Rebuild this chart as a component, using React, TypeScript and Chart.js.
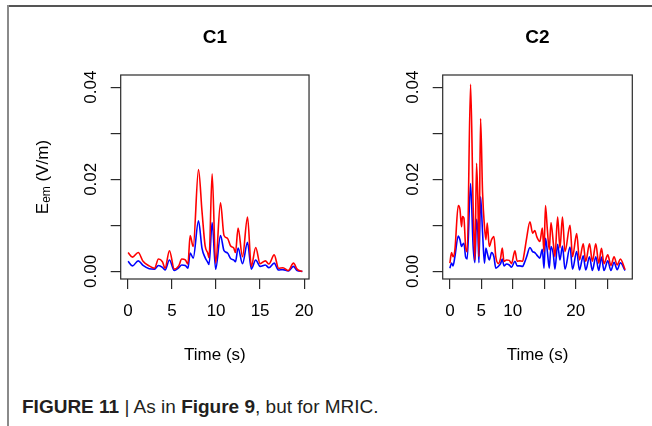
import React, { useEffect, useRef } from 'react';
import { Chart, registerables } from 'chart.js';

Chart.register(...registerables);

// ---------- data ----------
const c1Time = [0.0, 0.5, 1.15, 1.7, 2.4, 3.0, 3.45, 3.9, 4.2, 4.7, 5.25, 5.75, 6.1, 6.5, 6.8, 7.05, 7.4, 8.0, 8.4, 8.75, 9.05, 9.2, 9.55, 9.95, 10.5, 10.9, 11.3, 11.65, 12.0, 12.2, 12.5, 13.0, 13.57, 14.0, 14.5, 15.0, 15.6, 16.0, 16.6, 17.1, 17.6, 18.2, 18.8, 19.2, 19.8];
const c1Red = [0.0041, 0.0031, 0.0041, 0.0022, 0.0012, 0.0007, 0.0027, 0.0021, 0.0007, 0.0045, 0.0005, 0.0012, 0.0027, 0.0025, 0.0016, 0.0078, 0.0054, 0.0221, 0.0130, 0.0056, 0.0040, 0.0030, 0.0212, 0.0018, 0.0149, 0.0078, 0.0072, 0.0055, 0.0051, 0.0041, 0.0094, 0.0032, 0.0118, 0.0011, 0.0052, 0.0017, 0.0023, 0.0016, 0.0036, 0.0007, 0.0008, 0.0002, 0.0018, 0.0005, 0.0000];
const c1Blue = [0.0022, 0.0012, 0.0023, 0.0013, 0.0006, 0.0005, 0.0013, 0.0009, 0.0003, 0.0025, 0.0002, 0.0008, 0.0014, 0.0013, 0.0007, 0.0040, 0.0029, 0.0110, 0.0050, 0.0030, 0.0020, 0.0015, 0.0106, 0.0005, 0.0078, 0.0045, 0.0040, 0.0028, 0.0025, 0.0021, 0.0051, 0.0017, 0.0063, 0.0005, 0.0025, 0.0011, 0.0014, 0.0008, 0.0018, 0.0003, 0.0004, 0.0001, 0.0011, 0.0002, 0.0000];

const c2Time = [0.0, 0.27, 0.5, 0.8, 1.33, 1.6, 1.86, 2.0, 2.23, 2.5, 2.76, 3.29, 3.7, 3.98, 4.24, 4.45, 4.62, 4.88, 5.2, 5.5, 5.73, 5.94, 6.26, 6.63, 7.0, 7.3, 7.7, 8.06, 8.33, 8.6, 9.0, 9.44, 9.8, 10.34, 10.7, 11.1, 11.56, 11.83, 12.2, 12.73, 13.15, 13.5, 13.8, 14.3, 14.7, 14.96, 15.2, 15.5, 15.8, 16.07, 16.45, 16.7, 17.13, 17.5, 17.9, 18.3, 19.1, 19.5, 20.16, 20.6, 21.2, 21.6, 22.2, 22.65, 23.2, 23.66, 24.1, 24.5, 25.1, 25.6, 26.1, 26.6, 27.1, 27.85];
const c2Red = [0.0018, 0.0041, 0.0032, 0.0047, 0.0143, 0.0135, 0.0097, 0.0119, 0.0116, 0.0054, 0.0043, 0.0406, 0.0141, 0.0025, 0.0235, 0.0155, 0.0032, 0.0332, 0.0170, 0.0097, 0.0069, 0.0105, 0.0054, 0.0069, 0.0076, 0.0032, 0.0017, 0.0029, 0.0051, 0.0022, 0.0025, 0.0024, 0.0017, 0.0045, 0.0022, 0.0023, 0.0022, 0.0040, 0.0072, 0.0108, 0.0083, 0.0089, 0.0076, 0.0065, 0.0094, 0.0043, 0.0143, 0.0090, 0.0047, 0.0106, 0.0061, 0.0032, 0.0118, 0.0051, 0.0118, 0.0043, 0.0100, 0.0032, 0.0082, 0.0025, 0.0060, 0.0022, 0.0060, 0.0022, 0.0060, 0.0018, 0.0050, 0.0017, 0.0036, 0.0013, 0.0032, 0.0014, 0.0027, 0.0004];
const c2Blue = [0.0007, 0.0018, 0.0012, 0.0032, 0.0077, 0.0069, 0.0054, 0.0058, 0.0061, 0.0032, 0.0027, 0.0191, 0.0054, 0.0019, 0.0113, 0.0085, 0.0019, 0.0162, 0.0083, 0.0018, 0.0051, 0.0040, 0.0025, 0.0041, 0.0032, 0.0007, 0.0011, 0.0017, 0.0027, 0.0012, 0.0016, 0.0014, 0.0009, 0.0022, 0.0012, 0.0012, 0.0011, 0.0018, 0.0032, 0.0052, 0.0043, 0.0041, 0.0036, 0.0029, 0.0048, 0.0007, 0.0072, 0.0043, 0.0007, 0.0054, 0.0036, 0.0005, 0.0059, 0.0025, 0.0055, 0.0005, 0.0053, 0.0005, 0.0043, 0.0003, 0.0034, 0.0003, 0.0032, 0.0002, 0.0032, 0.0002, 0.0031, 0.0002, 0.0023, 0.0002, 0.0020, 0.0004, 0.0019, 0.0002];

const yTicks = [0, 0.01, 0.02, 0.03, 0.04];
const yTickLabels = ['0.00', '', '0.02', '', '0.04'];
const c1XTicks = [0, 5, 10, 15, 20];
const c1XLabels = ['0', '5', '10', '15', '20'];
const c2XTicks = [0, 5, 10, 15, 20, 25];
const c2XLabels = ['0', '5', '10', '', '20', ''];

const FONT = "'Liberation Sans', Arial, Helvetica, sans-serif";

type PanelProps = {
  title: string;
  time: number[];
  red: number[];
  blue: number[];
  xTicks: number[];
  xLabels: string[];
  xMin: number;
  xMax: number;
  left: number;
  yAxisWidth: number;
  padRight: number;
  showYTitle: boolean;
};

const boxPlugin = {
  id: 'rbox',
  afterDraw(chart: any) {
    const { ctx, chartArea } = chart;
    ctx.save();
    ctx.strokeStyle = '#2a2a2a';
    ctx.lineWidth = 1.2;
    ctx.strokeRect(chartArea.left, chartArea.top, chartArea.right - chartArea.left, chartArea.bottom - chartArea.top);
    ctx.restore();
  },
};

const yTitlePlugin = {
  id: 'ytitle',
  afterDraw(chart: any, _args: any, opts: any) {
    if (!opts || !opts.show) return;
    const { ctx, chartArea } = chart;
    const cy = (chartArea.top + chartArea.bottom) / 2;
    ctx.save();
    ctx.translate(opts.x, cy);
    ctx.rotate(-Math.PI / 2);
    ctx.fillStyle = '#000';
    ctx.textBaseline = 'middle';
    ctx.textAlign = 'left';
    const big = `17px ${FONT}`;
    const small = `12px ${FONT}`;
    ctx.font = big;
    const wE = ctx.measureText('E').width;
    const wRest = ctx.measureText(' (V/m)').width;
    ctx.font = small;
    const wSub = ctx.measureText('em').width;
    let x = -(wE + wSub + wRest) / 2;
    ctx.font = big;
    ctx.fillText('E', x, 0);
    x += wE;
    ctx.font = small;
    ctx.fillText('em', x, 4);
    x += wSub;
    ctx.font = big;
    ctx.fillText(' (V/m)', x, 0);
    ctx.restore();
  },
};

function Panel(p: PanelProps) {
  const ref = useRef<HTMLCanvasElement | null>(null);
  useEffect(() => {
    if (!ref.current) return;
    const chart = new Chart(ref.current, {
      type: 'line',
      data: {
        datasets: [
          {
            data: p.time.map((t, i) => ({ x: t, y: p.red[i] })),
            borderColor: '#ff0000',
            borderWidth: 1.6,
            pointRadius: 0,
            cubicInterpolationMode: 'monotone',
            fill: false,
          },
          {
            data: p.time.map((t, i) => ({ x: t, y: p.blue[i] })),
            borderColor: '#0000ff',
            borderWidth: 1.6,
            pointRadius: 0,
            cubicInterpolationMode: 'monotone',
            fill: false,
          },
        ],
      },
      options: {
        animation: false,
        responsive: false,
        maintainAspectRatio: false,
        devicePixelRatio: 1,
        events: [],
        layout: { padding: { left: 0, right: p.padRight, top: 0, bottom: 0 } },
        plugins: {
          legend: { display: false },
          tooltip: { enabled: false },
          title: {
            display: true,
            fullSize: false,
            text: p.title,
            color: '#000',
            font: { family: FONT, size: 19, weight: 'bold' },
            padding: { top: 26, bottom: 26.2 },
          },
          ytitle: { show: p.showYTitle, x: 43 },
        } as any,
        scales: {
          x: {
            type: 'linear',
            min: p.xMin,
            max: p.xMax,
            afterBuildTicks: (s: any) => {
              s.ticks = p.xTicks.map((v) => ({ value: v }));
            },
            afterFit: (s: any) => {
              s.height = 91;
            },
            ticks: {
              autoSkip: false,
              maxRotation: 0,
              minRotation: 0,
              color: '#000',
              padding: 12,
              font: { family: FONT, size: 17 },
              callback: (_v: any, i: number) => p.xLabels[i],
            },
            grid: {
              display: true,
              drawOnChartArea: false,
              drawTicks: true,
              tickLength: 10,
              tickColor: '#2a2a2a',
              lineWidth: 1.2,
            },
            border: { display: false },
            title: {
              display: true,
              text: 'Time (s)',
              color: '#000',
              font: { family: FONT, size: 17 },
              padding: { top: 0, bottom: 4 },
            },
          },
          y: {
            type: 'linear',
            min: -0.00164,
            max: 0.04264,
            afterBuildTicks: (s: any) => {
              s.ticks = yTicks.map((v) => ({ value: v }));
            },
            afterFit: (s: any) => {
              s.width = p.yAxisWidth;
            },
            ticks: {
              autoSkip: false,
              minRotation: 90,
              maxRotation: 90,
              crossAlign: 'center',
              color: '#000',
              padding: 3,
              font: { family: FONT, size: 17 },
              callback: (_v: any, i: number) => yTickLabels[i],
            },
            grid: {
              display: true,
              drawOnChartArea: false,
              drawTicks: true,
              tickLength: 10,
              tickColor: '#2a2a2a',
              lineWidth: 1.2,
            },
            border: { display: false },
          },
        },
      } as any,
      plugins: [boxPlugin, yTitlePlugin],
    });
    return () => chart.destroy();
  }, []);
  return (
    <canvas
      ref={ref}
      width={326}
      height={370}
      style={{ position: 'absolute', left: p.left, top: 0, width: 326, height: 370 }}
    />
  );
}

export default function App() {
  return (
    <div
      style={{
        position: 'fixed',
        left: 0,
        top: 0,
        width: 652,
        height: 426,
        background: '#fff',
        overflow: 'hidden',
      }}
    >
      <div style={{ position: 'absolute', left: 7, top: 5, width: 645, height: 1.5, background: '#555' }} />
      <div style={{ position: 'absolute', left: 7, top: 5, width: 2, height: 421, background: '#8a8a8a' }} />
      <Panel
        title="C1"
        time={c1Time}
        red={c1Red}
        blue={c1Blue}
        xTicks={c1XTicks}
        xLabels={c1XLabels}
        xMin={-0.84}
        xMax={20.56}
        left={0}
        yAxisWidth={120.7}
        padRight={15.3}
        showYTitle={true}
      />
      <Panel
        title="C2"
        time={c2Time}
        red={c2Red}
        blue={c2Blue}
        xTicks={c2XTicks}
        xLabels={c2XLabels}
        xMin={-1.14}
        xMax={29.0}
        left={326}
        yAxisWidth={116.7}
        padRight={19.7}
        showYTitle={false}
      />
      <div
        style={{
          position: 'absolute',
          left: 22,
          top: 396,
          lineHeight: '22px',
          fontFamily: FONT,
          fontSize: 19,
          color: '#231f20',
          whiteSpace: 'nowrap',
        }}
      >
        <b>FIGURE 11</b> | As in <b>Figure 9</b>, but for MRIC.
      </div>
    </div>
  );
}
